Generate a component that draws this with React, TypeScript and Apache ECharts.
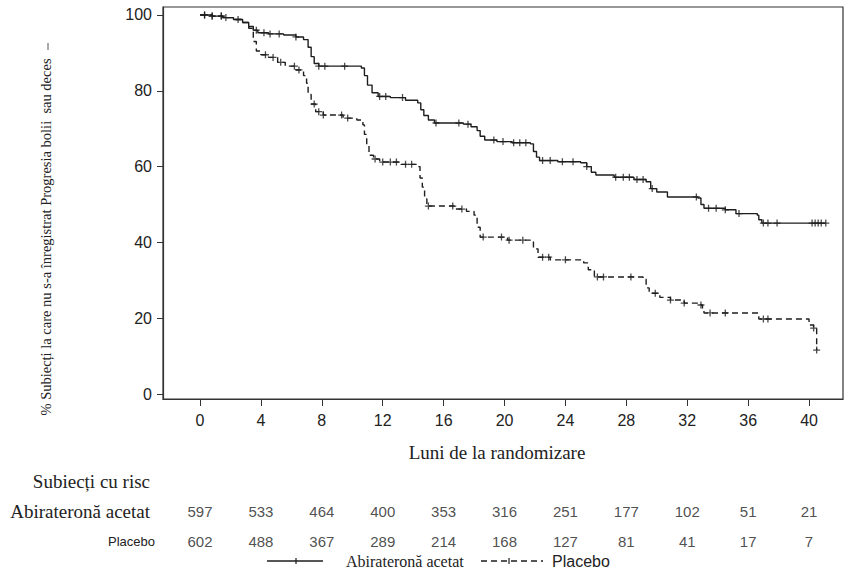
import React, { useEffect, useRef } from "react";
import * as echarts from "echarts";

// Kaplan-Meier step data: [month, % free of progression/death]
const abiSteps: number[][] = [
  [0, 100], [0.8, 99.7], [1.5, 99.3], [2.2, 98.8], [2.8, 98], [3.2, 97], [3.5, 96], [3.8, 95.3],
  [4.5, 95], [5.5, 94.7], [6.3, 94.2], [6.8, 93.5], [7.1, 91.5], [7.3, 89], [7.5, 87.2], [7.8, 86.5],
  [10.6, 86], [10.8, 84], [11.0, 81.5], [11.3, 79.5], [11.7, 78.5], [12.5, 78.2], [13.5, 77.5],
  [14.3, 76.8], [14.5, 75], [14.7, 73.5], [15.0, 72.3], [15.4, 71.5], [17.3, 71.2], [17.8, 70.5],
  [18.2, 69.5], [18.4, 68], [18.7, 67], [19.5, 66.6], [20.5, 66.3], [21.7, 66], [21.9, 64],
  [22.1, 62.5], [22.3, 61.6], [23.5, 61.3], [25, 61], [25.4, 60], [25.7, 58.5], [26.0, 57.8],
  [27.2, 57.2], [28.5, 56.6], [29.3, 56], [29.6, 54.2], [30.0, 53.3], [30.7, 52], [32.7, 51.7],
  [32.9, 50], [33.1, 49], [34.5, 48.6], [35.2, 47.6], [36.6, 47.2], [36.7, 46], [36.9, 45.1], [41.1, 45.1],
];
const placeboSteps: number[][] = [
  [0, 100], [0.8, 99.7], [1.5, 99.3], [2.2, 98.8], [2.8, 98], [3.2, 96.5], [3.5, 93], [3.7, 90.5],
  [4.0, 89.5], [4.5, 88.8], [5.1, 87.5], [5.6, 86.5], [6.3, 85.5], [6.8, 84], [7.0, 82], [7.1, 79],
  [7.3, 76.5], [7.6, 74.5], [8.1, 73.6], [9.4, 72.8], [10.3, 72.3], [10.7, 71], [10.8, 68.5],
  [10.95, 65.5], [11.1, 63], [11.4, 62], [11.8, 61.2], [13.2, 60.6], [14.3, 60], [14.45, 57],
  [14.6, 54.6], [14.75, 51.5], [14.9, 49.6], [16.7, 48.8], [17.5, 48.2], [18.0, 47.2], [18.2, 44],
  [18.4, 41.4], [20.2, 40.6], [21.7, 40.1], [21.9, 38.3], [22.2, 36.1], [23, 35.4], [25.2, 34.6],
  [25.5, 32.8], [25.9, 30.9], [29.1, 30.3], [29.3, 28], [29.5, 26.6], [30.2, 25.5], [30.9, 24.8],
  [31.8, 24], [32.9, 23.5], [33.0, 22.3], [33.1, 21.4], [36.7, 19.8], [40.0, 18.2], [40.3, 17.4],
  [40.5, 11.6],
];

// censoring times (months)
const abiCensor = [
  0.3, 0.8, 1.4, 1.7, 2.5, 3.7, 4.2, 4.6, 5.2, 6.3, 7.8, 8.2, 9.5, 11.8, 12.2, 13.3, 15.5, 17.0,
  17.6, 19.3, 19.9, 20.6, 21.0, 21.4, 22.5, 23.0, 23.8, 24.5, 25.4, 27.3, 27.8, 28.2, 28.7, 29.1,
  29.7, 32.6, 33.4, 33.9, 34.5, 35.4, 37.0, 37.3, 37.9, 40.2, 40.4, 40.6, 40.8, 41.1,
];
const placeboCensor = [
  0.3, 0.8, 1.4, 4.3, 4.8, 5.3, 6.2, 6.5, 7.5, 7.8, 8.1, 9.3, 9.7, 11.5, 12.0, 12.5, 12.9, 13.5,
  13.9, 15.0, 16.6, 17.2, 18.6, 19.8, 20.3, 21.2, 22.5, 22.9, 24.0, 26.1, 26.5, 28.3, 29.9, 30.9,
  31.8, 32.9, 33.5, 34.5, 37.0, 37.3, 40.3, 40.5,
];

const monthTicks = [0, 4, 8, 12, 16, 20, 24, 28, 32, 36, 40];
const yTicks = [0, 20, 40, 60, 80, 100];
const abiAtRisk = [597, 533, 464, 400, 353, 316, 251, 177, 102, 51, 21];
const placeboAtRisk = [602, 488, 367, 289, 214, 168, 127, 81, 41, 17, 7];
const riskRows = ["Abirateronă acetat", "Placebo"];

const stepAt = (steps: number[][], t: number) => {
  let v = steps[0][1];
  for (const [x, y] of steps) {
    if (x <= t) v = y;
    else break;
  }
  return v;
};

const INK = "#1e1e1e";
const SERIF = "'Liberation Serif', 'Times New Roman', serif";
const SANS = "'Liberation Sans', Arial, sans-serif";
const PLUS = "path://M5,0L5,10M0,5L10,5";

export default function App() {
  const ref = useRef<HTMLDivElement>(null);
  useEffect(() => {
    if (!ref.current) return;
    const chart = echarts.init(ref.current, undefined, { renderer: "svg" });
    const X_MIN = -2.43;
    const X_MAX = 42.23;
    chart.setOption({
      animation: false,
      backgroundColor: "#ffffff",
      grid: [
        { left: 163, top: 7, right: 9, bottom: 180, show: true, borderColor: "#333", borderWidth: 1.2 },
        { left: 163, top: 496, right: 9, height: 60, show: false },
      ],
      xAxis: [
        {
          gridIndex: 0,
          type: "value",
          min: X_MIN,
          max: X_MAX,
          axisLine: { show: true, onZero: false, lineStyle: { color: "#333", width: 1.2 } },
          axisTick: { show: true, length: 7, customValues: monthTicks, lineStyle: { color: "#333" } },
          axisLabel: { customValues: monthTicks, color: "#222", fontFamily: SANS, fontSize: 16, margin: 13 },
          splitLine: { show: false },
        },
        { gridIndex: 1, type: "value", min: X_MIN, max: X_MAX, show: false },
      ],
      yAxis: [
        {
          gridIndex: 0,
          type: "value",
          min: -1.3,
          max: 102.1,
          axisLine: { show: true, onZero: false, lineStyle: { color: "#333", width: 1.2 } },
          axisTick: { show: true, length: 6, customValues: yTicks, lineStyle: { color: "#333" } },
          axisLabel: { customValues: yTicks, color: "#222", fontFamily: SANS, fontSize: 16, margin: 11 },
          splitLine: { show: false },
        },
        { gridIndex: 1, type: "category", data: riskRows, inverse: true, show: false },
      ],
      series: [
        {
          type: "line",
          step: "end",
          data: abiSteps,
          showSymbol: false,
          lineStyle: { color: INK, width: 1.4 },
          z: 3,
        },
        {
          type: "line",
          step: "end",
          data: placeboSteps,
          showSymbol: false,
          lineStyle: { color: INK, width: 1.4, type: [6, 4] },
          z: 3,
        },
        {
          type: "scatter",
          data: abiCensor.map((t) => [t, stepAt(abiSteps, t)]),
          symbol: PLUS,
          symbolSize: 7,
          itemStyle: { color: INK, borderColor: INK, borderWidth: 1.3 },
          z: 4,
        },
        {
          type: "scatter",
          data: placeboCensor.map((t) => [t, stepAt(placeboSteps, t)]),
          symbol: PLUS,
          symbolSize: 7,
          itemStyle: { color: INK, borderColor: INK, borderWidth: 1.3 },
          z: 4,
        },
        {
          type: "scatter",
          xAxisIndex: 1,
          yAxisIndex: 1,
          symbolSize: 1,
          itemStyle: { color: "rgba(0,0,0,0)" },
          data: [
            ...monthTicks.map((m, i) => [m, riskRows[0], abiAtRisk[i]]),
            ...monthTicks.map((m, i) => [m, riskRows[1], placeboAtRisk[i]]),
          ],
          label: {
            show: true,
            position: "inside",
            formatter: (p: any) => String(p.value[2]),
            color: "#222",
            fontFamily: SANS,
            fontSize: 15,
          },
        },
      ],
      graphic: [
        {
          type: "text",
          x: 46,
          y: 237,
          rotation: Math.PI / 2,
          style: {
            text: "% Subiecți la care nu s-a înregistrat Progresia bolii  sau deces",
            font: `14.5px ${SERIF}`,
            fill: "#222",
            align: "center",
            verticalAlign: "middle",
          },
        },
        { type: "line", shape: { x1: 48, y1: 43, x2: 48, y2: 50 }, style: { stroke: "#555", lineWidth: 1 } },
        {
          type: "text",
          x: 497,
          y: 452,
          style: { text: "Luni de la randomizare", font: `19px ${SERIF}`, fill: "#222", align: "center", verticalAlign: "middle" },
        },
        {
          type: "text",
          x: 150,
          y: 481,
          style: { text: "Subiecți cu risc", font: `19px ${SERIF}`, fill: "#222", align: "right", verticalAlign: "middle" },
        },
        {
          type: "text",
          x: 150,
          y: 511,
          style: { text: riskRows[0], font: `19px ${SERIF}`, fill: "#222", align: "right", verticalAlign: "middle" },
        },
        {
          type: "text",
          x: 155,
          y: 541,
          style: { text: riskRows[1], font: `13px ${SANS}`, fill: "#222", align: "right", verticalAlign: "middle" },
        },
        // legend
        { type: "line", shape: { x1: 267, y1: 561, x2: 323, y2: 561 }, style: { stroke: INK, lineWidth: 1.4 } },
        { type: "line", shape: { x1: 296, y1: 558, x2: 296, y2: 564 }, style: { stroke: INK, lineWidth: 1.2 } },
        {
          type: "text",
          x: 346,
          y: 561,
          style: { text: riskRows[0], font: `16px ${SERIF}`, fill: "#222", align: "left", verticalAlign: "middle" },
        },
        { type: "line", shape: { x1: 481, y1: 561, x2: 543, y2: 561 }, style: { stroke: INK, lineWidth: 1.4, lineDash: [6, 4] } },
        { type: "line", shape: { x1: 509, y1: 558, x2: 509, y2: 564 }, style: { stroke: INK, lineWidth: 1.2 } },
        {
          type: "text",
          x: 552,
          y: 561,
          style: { text: riskRows[1], font: `16px ${SANS}`, fill: "#222", align: "left", verticalAlign: "middle" },
        },
      ],
    });
    return () => chart.dispose();
  }, []);
  return (
    <div
      ref={ref}
      style={{ position: "fixed", left: 0, top: 0, width: 852, height: 579, background: "#fff" }}
    />
  );
}
